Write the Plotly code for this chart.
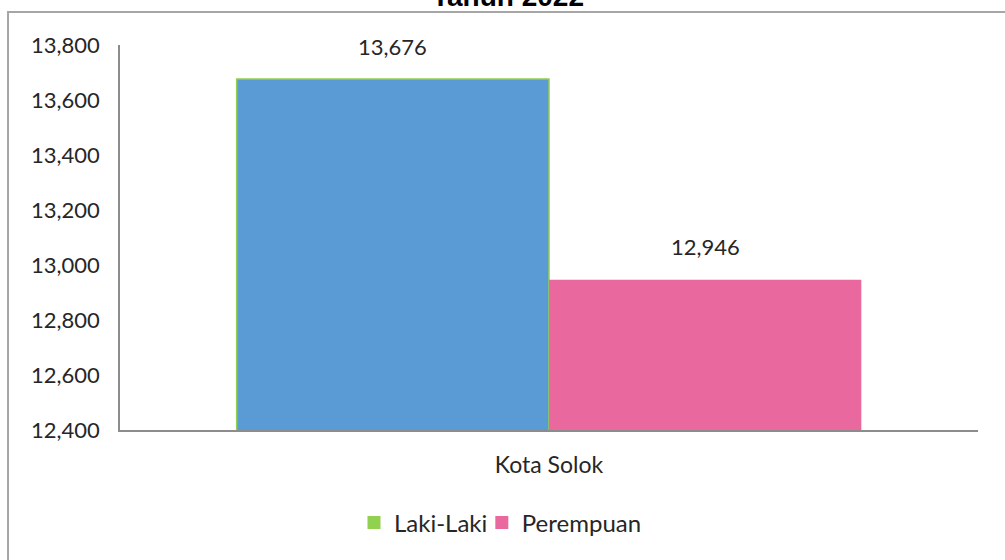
import plotly.graph_objects as go

categories = ["Kota Solok"]
laki_laki = [13676]
perempuan = [12946]
series_names = ["Laki-Laki", "Perempuan"]
y_ticks = [12400, 12600, 12800, 13000, 13200, 13400, 13600, 13800]
title_text = "Tahun 2022"

FONT = "Lato"
TXT = "#262626"
W, H = 1005, 560
ML, MR, MT, MB = 120, 27, 45, 130
BARGAP = 0.272
plot_w = W - ML - MR
bar_px = (1 - BARGAP) * plot_w / 2

fig = go.Figure()
fig.add_trace(go.Bar(
    x=categories, y=laki_laki, name=series_names[0], showlegend=False, offsetgroup="a",
    marker=dict(color="#5B9BD5", line=dict(color="#92D050", width=1.5)),
))
fig.add_trace(go.Bar(
    x=categories, y=perempuan, name=series_names[1], showlegend=False, offsetgroup="b",
    marker=dict(color="#E9699E", line=dict(width=0)),
))
# legend entries (Excel-style legend keys)
fig.add_trace(go.Scatter(x=[None], y=[None], name=series_names[0], mode="markers",
                         legend="legend",
                         marker=dict(symbol="square", size=13, color="#92D050",
                                     line=dict(width=0))))
fig.add_trace(go.Scatter(x=[None], y=[None], name=series_names[1], mode="markers",
                         legend="legend2",
                         marker=dict(symbol="square", size=13, color="#E9699E",
                                     line=dict(width=0))))

annotations = [dict(text="<b>" + title_text + "</b>", xref="paper", yref="paper",
                    x=0.452, y=1.0857, xanchor="center", yanchor="bottom", yshift=-2,
                    showarrow=False,
                    font=dict(family="Liberation Sans", size=28, color="black"))]
for vals, sign in ((laki_laki, -1), (perempuan, 1)):
    for c, v in zip(categories, vals):
        annotations.append(dict(text=f"{v:,}", x=c, y=v, xref="x", yref="y",
                                xshift=sign * bar_px / 2, yshift=33,
                                xanchor="center", yanchor="middle", showarrow=False,
                                font=dict(family=FONT, size=22, color=TXT)))

legend_common = dict(orientation="h", xanchor="left", y=-0.2416, yanchor="middle",
                     font=dict(family=FONT, size=24, color=TXT), itemwidth=30,
                     bgcolor="rgba(0,0,0,0)")

fig.update_layout(
    width=W, height=H,
    margin=dict(l=ML, r=MR, t=MT, b=MB),
    paper_bgcolor="white", plot_bgcolor="white",
    barmode="group", bargap=BARGAP, bargroupgap=0,
    font=dict(family=FONT, size=22, color=TXT),
    showlegend=True,
    legend=dict(x=0.2727, **legend_common),
    legend2=dict(x=0.4217, **legend_common),
    annotations=annotations,
    shapes=[dict(type="rect", xref="paper", yref="paper", x0=-0.1305, x1=1.2,
                 y0=-0.6, y1=1.0857, line=dict(color="#A6A6A6", width=2), layer="below")],
)
fig.update_yaxes(range=[12400, 13800], tickvals=y_ticks, tickformat=",",
                 showgrid=False, zeroline=False, showline=True, linecolor="#8C8C8C",
                 linewidth=1.5, ticks="", ticklabelstandoff=14,
                 tickfont=dict(family=FONT, size=22, color=TXT))
fig.update_xaxes(showgrid=False, showline=True, linecolor="#8C8C8C", linewidth=2,
                 ticks="", ticklabelstandoff=13,
                 tickfont=dict(family=FONT, size=23, color=TXT))

fig.write_html("out.html", config={"displayModeBar": False},
               post_script="document.body.style.margin='0px';")
